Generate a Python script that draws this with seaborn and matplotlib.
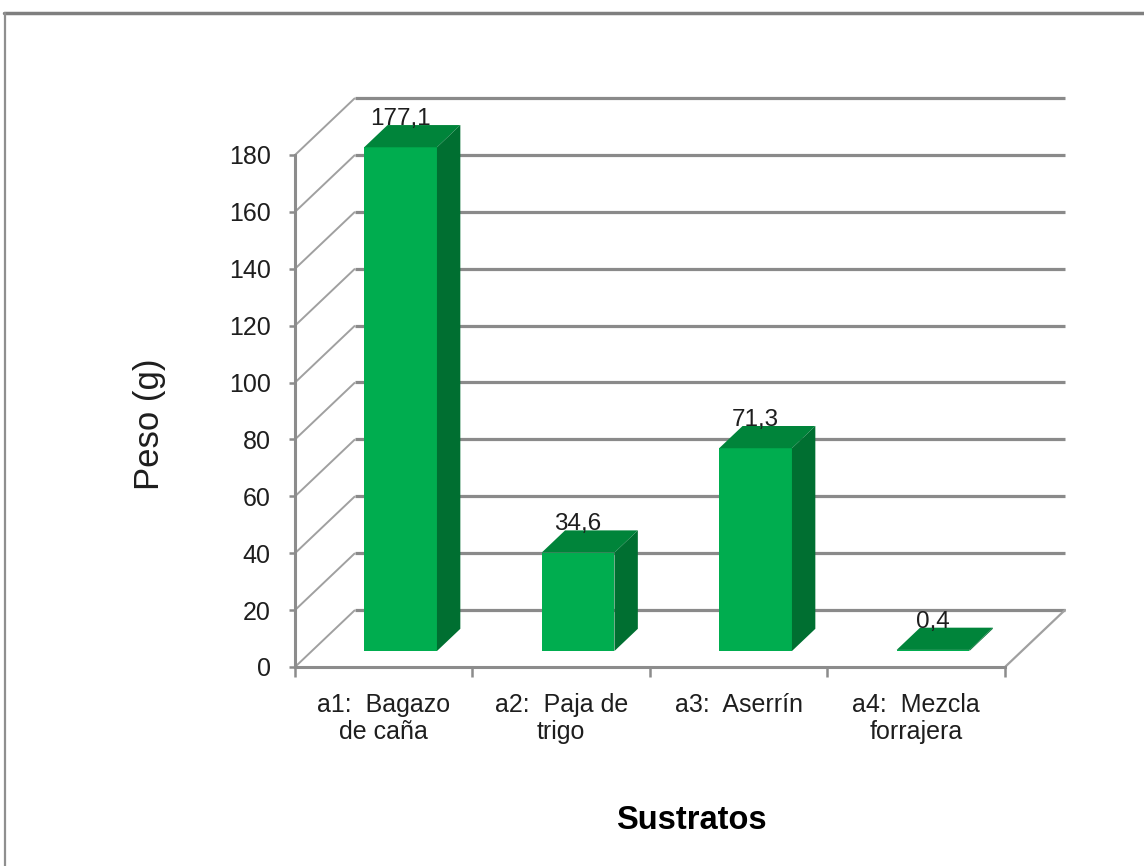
import numpy as np
import pandas as pd
import matplotlib
matplotlib.use("Agg")
import matplotlib.pyplot as plt
from matplotlib.patches import Polygon
from matplotlib.lines import Line2D
import seaborn as sns

# Data
categories = ["a1:  Bagazo\nde caña", "a2:  Paja de\ntrigo", "a3:  Aserrín", "a4:  Mezcla\nforrajera"]
values = [177.1, 34.6, 71.3, 0.4]
value_labels = ["177,1", "34,6", "71,3", "0,4"]
yticks = list(range(0, 181, 20))

sns.set_theme(style="white")
FONT = ["Liberation Sans", "DejaVu Sans"]
plt.rcParams["font.family"] = FONT

FRONT, TOP, SIDE = "#00AD4F", "#00843A", "#006F31"
GRID, AXIS, TEXT = "#8a8a8a", "#8c8c8c", "#1e1e1e"

W, H = 1144, 866
fig = plt.figure(figsize=(W / 100, H / 100), dpi=100)
fig.patch.set_facecolor("white")

# pseudo-3D geometry (pixel sizes of one category and one unit)
CAT_PX = 177.5
UNIT_PX = 512 / 180
DEPTH_X = 60 / CAT_PX
DEPTH_Y = 57 / UNIT_PX
BAR_FRONT, BAR_BACK = 0.28, 0.67
shift = BAR_FRONT * DEPTH_X
bar_base = BAR_FRONT * DEPTH_Y
bar_dx = (BAR_BACK - BAR_FRONT) * DEPTH_X
bar_dy = (BAR_BACK - BAR_FRONT) * DEPTH_Y

x0 = -0.5 - shift
x_front_end = x0 + len(categories)
x_wall_end = x_front_end + DEPTH_X
xmax = x_wall_end + 0.05
ymax = 180 + DEPTH_Y + 2

left_px, base_px = 295, 667
ax = fig.add_axes([left_px / W, (H - base_px) / H,
                   (xmax - x0) * CAT_PX / W, ymax * UNIT_PX / H])
ax.patch.set_alpha(0)

df = pd.DataFrame({"sustrato": categories, "peso": values})
sns.barplot(data=df, x="sustrato", y="peso", order=categories, ax=ax,
            width=0.41, color=FRONT, saturation=1, bottom=bar_base,
            linewidth=0, zorder=3)

ax.set_xlim(x0, xmax)
ax.set_ylim(0, ymax)
ax.set_xlabel("")
ax.set_ylabel("")

# back wall gridlines with their diagonals towards the front axis
for v in yticks:
    ax.plot([x0, x0 + DEPTH_X], [v, v + DEPTH_Y], color="#a0a0a0", lw=1.4,
            zorder=1, clip_on=False, solid_capstyle="butt")
    ax.plot([x0 + DEPTH_X, x_wall_end], [v + DEPTH_Y, v + DEPTH_Y], color=GRID,
            lw=2.3, zorder=1, clip_on=False, solid_capstyle="butt")
# right floor edge
ax.plot([x_front_end, x_wall_end], [0, DEPTH_Y], color="#a0a0a0", lw=1.6,
        zorder=1, clip_on=False)

# side and top faces of each bar, value labels above
for p, lab in zip(ax.patches, value_labels):
    x, w = p.get_x(), p.get_width()
    b, h = p.get_y(), p.get_height()
    t = b + h
    top = Polygon([(x, t), (x + w, t), (x + w + bar_dx, t + bar_dy), (x + bar_dx, t + bar_dy)],
                  closed=True, facecolor=TOP, edgecolor="none", zorder=3)
    side = Polygon([(x + w, b), (x + w + bar_dx, b + bar_dy), (x + w + bar_dx, t + bar_dy), (x + w, t)],
                   closed=True, facecolor=SIDE, edgecolor="none", zorder=3)
    ax.add_patch(top)
    ax.add_patch(side)
    ax.text(x + w / 2, t + bar_dy, lab, ha="center", va="baseline",
            fontsize=17.5, color=TEXT, zorder=5)

# axes lines
for s in ["top", "right"]:
    ax.spines[s].set_visible(False)
for s in ["left", "bottom"]:
    ax.spines[s].set_color(AXIS)
    ax.spines[s].set_linewidth(2.2)
    ax.spines[s].set_zorder(2)
ax.spines["left"].set_bounds(0, 180)
ax.spines["bottom"].set_bounds(x0, x_front_end)

ax.set_yticks(yticks)
ax.set_yticklabels([str(v) for v in yticks])
ax.tick_params(axis="y", length=4.5, width=1.8, color=AXIS, pad=13,
               labelsize=18, labelcolor=TEXT, left=True)

ax.set_xticks(np.arange(len(categories)) - shift)
ax.set_xticklabels(categories, linespacing=1.12)
ax.set_xticks(x0 + np.arange(len(categories) + 1), minor=True)
ax.tick_params(axis="x", which="major", length=0, pad=19, labelsize=18,
               labelcolor=TEXT)
ax.tick_params(axis="x", which="minor", length=7.5, width=1.8, color=AXIS,
               bottom=True, direction="out")

# axis titles
fig.text(150 / W, 1 - 424.5 / H, "Peso (g)", rotation=90, ha="center", va="center",
         fontsize=25, color=TEXT)
fig.text(691 / W, 1 - 829 / H, "Sustratos", ha="center", va="baseline",
         fontsize=23.5, fontweight="bold", color="black")

# frame lines of the chart area
fig.add_artist(Line2D([4 / W, 1], [1 - 13 / H, 1 - 13 / H], color="#7f7f7f",
                      lw=2.5, transform=fig.transFigure))
fig.add_artist(Line2D([5 / W, 5 / W], [0, 1 - 13 / H], color="#8f8f8f",
                      lw=1.6, transform=fig.transFigure))

fig.savefig("out.png", dpi=100, facecolor="white")
